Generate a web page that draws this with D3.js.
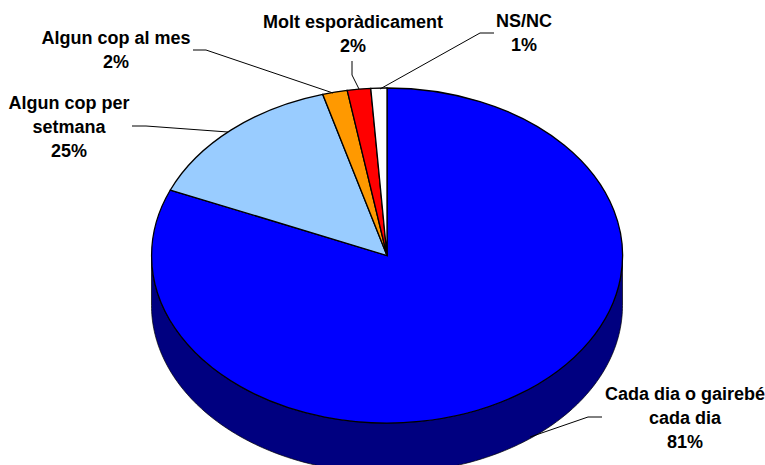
<!DOCTYPE html>
<html><head><meta charset="utf-8">
<script src="https://d3js.org/d3.v7.min.js"></script>
<style>html,body{margin:0;padding:0;background:#fff;overflow:hidden}svg{display:block}text{font-family:"Liberation Sans",Arial,sans-serif;font-weight:bold;font-size:18px;fill:#000;text-anchor:middle}</style>
</head><body><svg id="c" width="765" height="465"></svg>
<script>
const categories=["Cada dia o gairebé cada dia","Algun cop per setmana","Algun cop al mes","Molt esporàdicament","NS/NC"];
const sliceShares=[81.4,14.2,1.7,1.6,1.1];
const printedPercents=["81%","25%","2%","2%","1%"];
const colours=["#0000ff","#99ccff","#ff9900","#ff0000","#ffffff"];
const labelLines=[["Cada dia o gairebé","cada dia"],["Algun cop per","setmana"],["Algun cop al mes"],["Molt esporàdicament"],["NS/NC"]];
const labelAnchors=[[685,400],[69,109],[116,44],[353,28],[524,27]];
const leaders=[[[602,417],[588,417],[530,437]],[[132,126],[146,126],[228,132]],[[193,50],[206,50],[333,93]],[[352,61],[352,75],[359,89]],[[494,33],[480,33],[380,89]]];
const cx=387,cy=255.5,rx=235.5,ry=167.5,depth=50;
const svg=d3.select("#c");
const sx=d3.scaleLinear().domain([-1,1]).range([cx-rx,cx+rx]);
const sy=d3.scaleLinear().domain([-1,1]).range([cy-ry,cy+ry]);
const pie=d3.pie().sort(null).value(d=>d);
const arcs=pie(sliceShares);
const arcGen=d3.arc().innerRadius(0).outerRadius(1);
const wallAngles=d3.range(0,181).map(d=>d*Math.PI/180);
const wallPts=[...wallAngles.map(a=>[sx(Math.cos(a)),sy(Math.sin(a))+depth]),...wallAngles.slice().reverse().map(a=>[sx(Math.cos(a)),sy(Math.sin(a))])];
svg.append("path").attr("d",d3.line()(wallPts)+"Z").attr("fill","#000080").attr("stroke","#000").attr("stroke-width",0.7);
svg.append("g").attr("transform",`translate(${cx},${cy}) scale(${rx},${ry})`)
 .selectAll("path").data(arcs).join("path")
 .attr("d",arcGen).attr("fill",(d,i)=>colours[i]).attr("stroke","#000").attr("stroke-width",1.3).attr("vector-effect","non-scaling-stroke");
svg.append("g").selectAll("path").data(leaders).join("path").attr("d",d=>d3.line()(d)).attr("fill","none").attr("stroke","#000").attr("stroke-width",1);
categories.forEach((c,i)=>{
 const lines=[...labelLines[i],printedPercents[i]];
 const t=svg.append("text").attr("x",labelAnchors[i][0]).attr("y",labelAnchors[i][1]);
 lines.forEach((l,j)=>t.append("tspan").attr("x",labelAnchors[i][0]).attr("y",labelAnchors[i][1]+j*24).text(l));
});
</script></body></html>
